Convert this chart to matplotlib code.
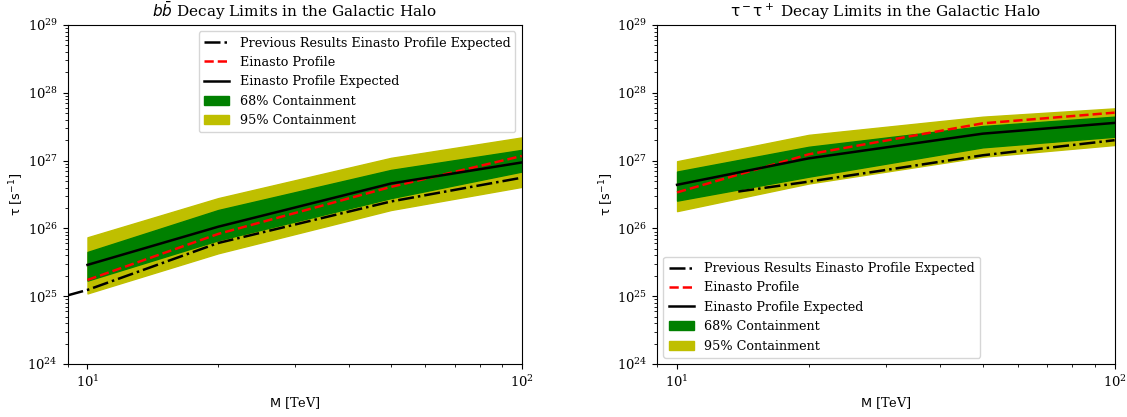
import matplotlib
matplotlib.use("Agg")
import matplotlib.pyplot as plt

plt.rcParams['font.family'] = 'serif'
plt.rcParams['mathtext.fontset'] = 'dejavusans'

# masses in TeV
mass = [10, 20, 50, 100]

# b bbar channel
bb_expected = [2.9e25, 1.06e26, 4.6e26, 9.4e26]
bb_observed = [1.74e25, 8.3e25, 4.1e26, 1.17e27]
bb_68_lo = [1.7e25, 6.7e25, 2.8e26, 6.9e26]
bb_68_hi = [4.5e25, 1.87e26, 7.3e26, 1.44e27]
bb_95_lo = [1.1e25, 4.3e25, 1.87e26, 4.1e26]
bb_95_hi = [7.4e25, 2.8e26, 1.1e27, 2.2e27]
bb_prev_mass = [9, 10, 20, 50, 100]
bb_prev = [1.03e25, 1.24e25, 6.1e25, 2.5e26, 5.6e26]

# tau tau channel
tt_expected = [4.4e26, 1.08e27, 2.5e27, 3.6e27]
tt_observed = [3.4e26, 1.24e27, 3.55e27, 5.1e27]
tt_68_lo = [2.57e26, 5.8e26, 1.57e27, 2.25e27]
tt_68_hi = [6.9e26, 1.6e27, 3.24e27, 4.45e27]
tt_95_lo = [1.8e26, 4.6e26, 1.14e27, 1.7e27]
tt_95_hi = [9.8e26, 2.4e27, 4.45e27, 5.9e27]
tt_prev_mass = [13.8, 20, 50, 100]
tt_prev = [3.5e26, 4.9e26, 1.2e27, 2.0e27]


def draw(ax, expected, observed, lo68, hi68, lo95, hi95, pmass, prev, title, loc):
    ax.fill_between(mass, lo95, hi95, color='y', label='95% Containment')
    ax.fill_between(mass, lo68, hi68, color='g', label='68% Containment')
    ax.plot(pmass, prev, 'k-.', lw=1.8, label='Previous Results Einasto Profile Expected')
    ax.plot(mass, observed, 'r--', lw=1.8, label='Einasto Profile')
    ax.plot(mass, expected, 'k-', lw=1.8, label='Einasto Profile Expected')
    ax.set_xscale('log')
    ax.set_yscale('log')
    ax.set_xlim(9, 100)
    ax.set_ylim(1e24, 1e29)
    ax.set_xlabel(r'$\mathrm{M}$ [TeV]', fontsize=9.3)
    ax.set_ylabel(r'$\mathrm{\tau}$ [$\mathrm{s}^{-1}$]', fontsize=9.3, labelpad=1)
    ax.set_title(title, fontsize=11)
    ax.tick_params(labelsize=9.5)
    h, l = ax.get_legend_handles_labels()
    order = [2, 3, 4, 1, 0]
    ax.legend([h[i] for i in order], [l[i] for i in order], loc=loc, fontsize=9.2)


fig = plt.figure(figsize=(11.27, 4.17), dpi=100)
ax1 = fig.add_axes([0.060, 0.127, 0.403, 0.813])
ax2 = fig.add_axes([0.583, 0.127, 0.406, 0.813])

draw(ax1, bb_expected, bb_observed, bb_68_lo, bb_68_hi, bb_95_lo, bb_95_hi,
     bb_prev_mass, bb_prev, r'$b\bar{b}$ Decay Limits in the Galactic Halo', 'upper right')
draw(ax2, tt_expected, tt_observed, tt_68_lo, tt_68_hi, tt_95_lo, tt_95_hi,
     tt_prev_mass, tt_prev, r'$\mathrm{\tau}^-\mathrm{\tau}^+$ Decay Limits in the Galactic Halo', 'lower left')

fig.savefig('out.png', dpi=100)
